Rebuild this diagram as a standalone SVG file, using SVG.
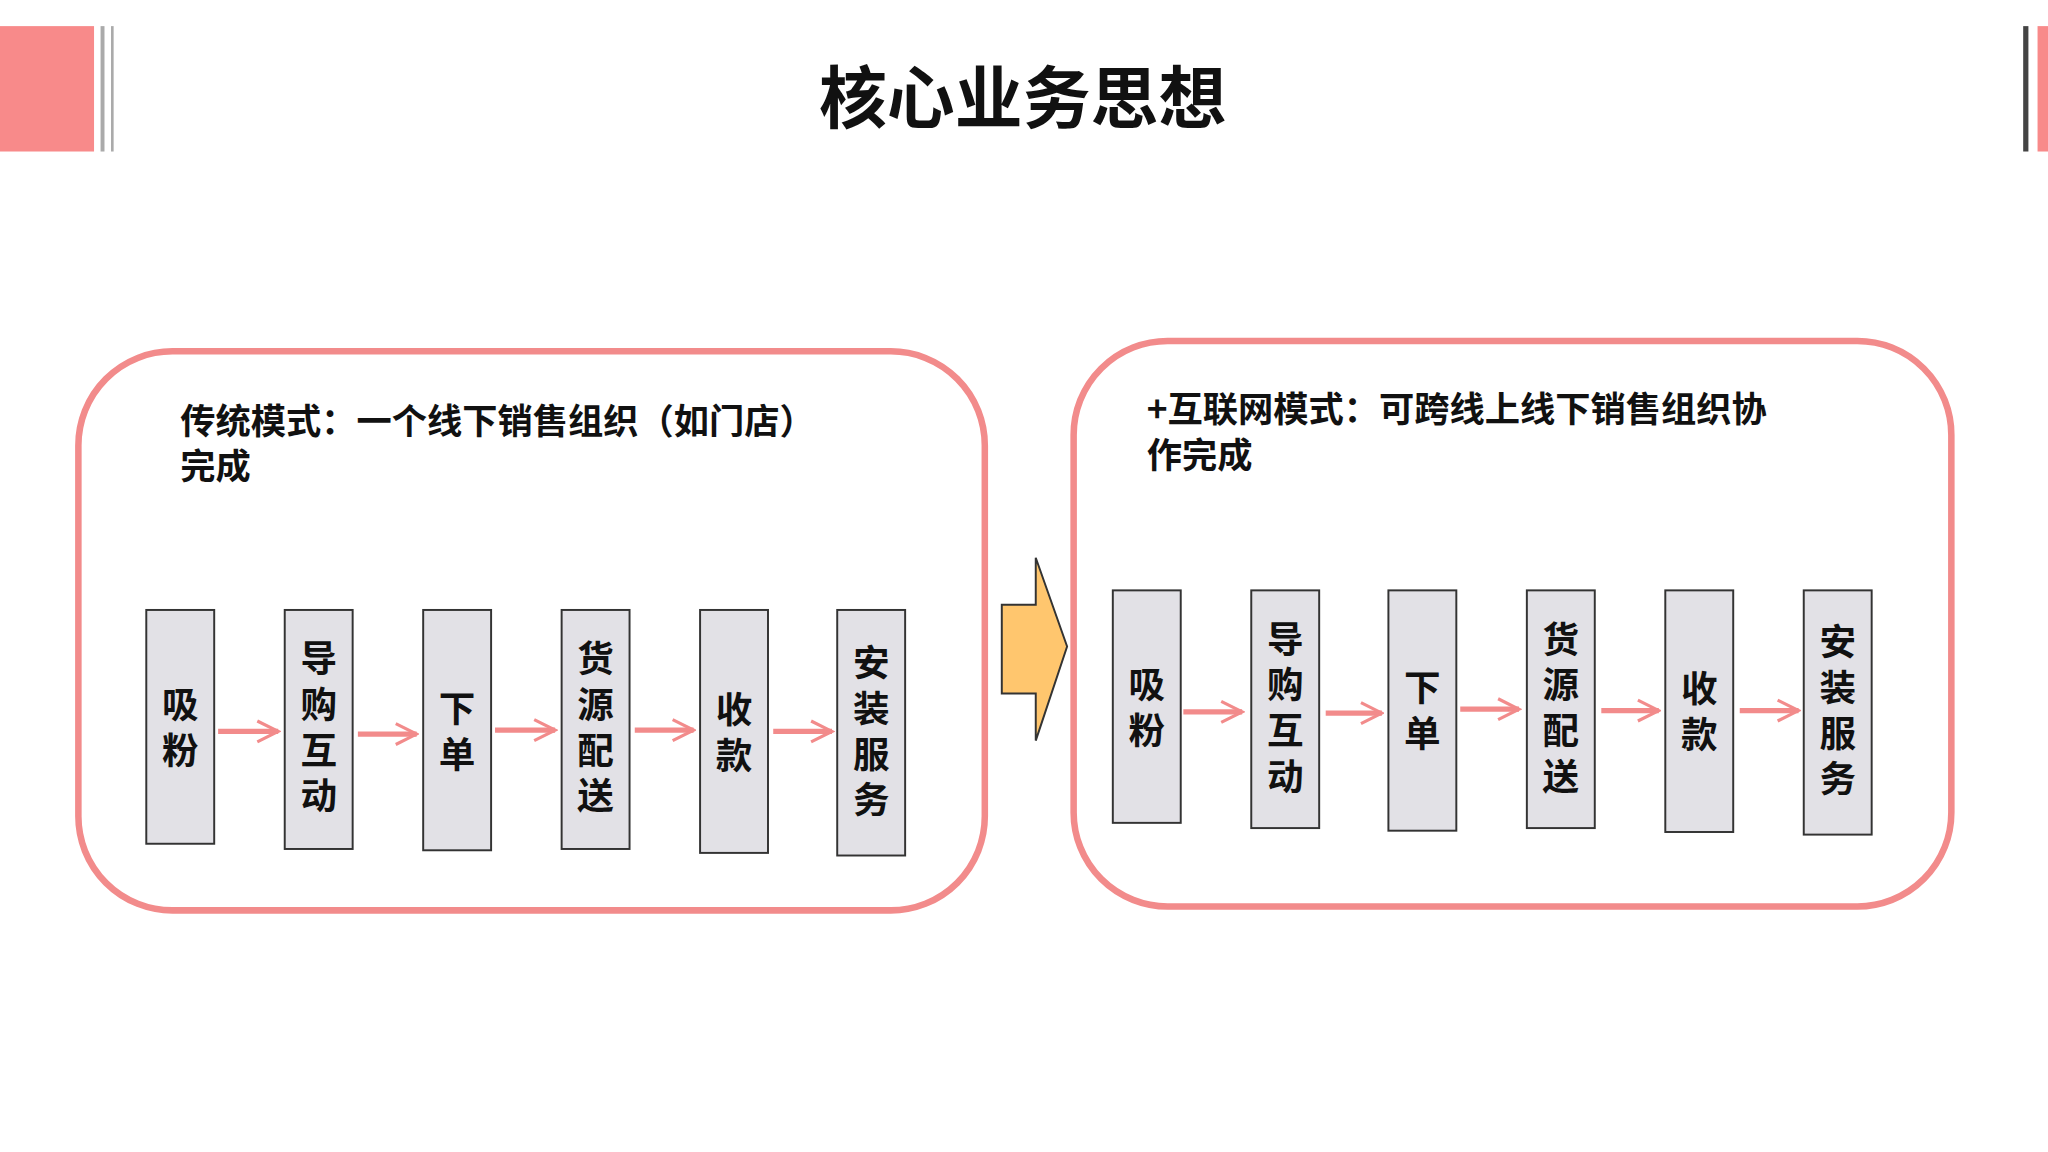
<svg xmlns="http://www.w3.org/2000/svg" width="2048" height="1152" viewBox="0 0 2048 1152">
<defs>
<style>
text{font-family:"Noto Sans CJK SC","Liberation Sans",sans-serif;font-weight:bold;fill:#111}
.panel{fill:#fff;stroke:#F28B8B;stroke-width:5}
.box{fill:#E2E1E6;stroke:#333;stroke-width:1.5}
.bt{font-size:28px;text-anchor:middle;writing-mode:vertical-rl;letter-spacing:7px}
.conn{stroke:#F28B8B;stroke-width:4;fill:none;marker-end:url(#ah)}
</style>
<marker id="ah" viewBox="0 0 10 10" refX="9" refY="5" markerWidth="5" markerHeight="7" orient="auto" markerUnits="strokeWidth">
<path d="M1 1 L9 5 L1 9" fill="none" stroke="#F28B8B" stroke-width="1.2"/>
</marker>
</defs>
<rect width="2048" height="1152" fill="#fff"/>
<g transform="scale(1.30612)">
<g id="header">
<rect x="0" y="20" width="72" height="96" fill="#F88A8A"/>
<rect x="77" y="20" width="3" height="96" fill="#aaa"/>
<rect x="85" y="20" width="2" height="96" fill="#aaa"/>
<rect x="1549" y="20" width="4" height="96" fill="#444"/>
<rect x="1560" y="20" width="8" height="96" fill="#F88A8A"/>
<text x="783" y="94" font-size="52" text-anchor="middle">核心业务思想</text>
</g>
<g id="left-panel">
<rect class="panel" x="60" y="269" width="694" height="428" rx="72"/>
<text x="138" y="332" font-size="27">传统模式：一个线下销售组织（如门店）<tspan x="138" dy="35">完成</tspan></text>
</g>
<g id="right-panel">
<rect class="panel" x="822" y="261" width="672" height="433" rx="72"/>
<text x="878" y="323" font-size="27">+互联网模式：可跨线上线下销售组织协<tspan x="878" dy="35">作完成</tspan></text>
</g>
<g id="big-arrow">
<polygon points="767,463 793,463 793,427 817,495 793,567 793,531 767,531" fill="#FFC66E" stroke="#333" stroke-width="1.5"/>
</g>
<g id="connectors">
<line class="conn" x1="167" y1="560" x2="213" y2="560"/>
<line class="conn" x1="274" y1="562" x2="319" y2="562"/>
<line class="conn" x1="379" y1="559" x2="425" y2="559"/>
<line class="conn" x1="486" y1="559" x2="531" y2="559"/>
<line class="conn" x1="592" y1="560" x2="637" y2="560"/>
<line class="conn" x1="906" y1="545" x2="951" y2="545"/>
<line class="conn" x1="1015" y1="546" x2="1058" y2="546"/>
<line class="conn" x1="1118" y1="543" x2="1163" y2="543"/>
<line class="conn" x1="1226" y1="544" x2="1270" y2="544"/>
<line class="conn" x1="1332" y1="544" x2="1377" y2="544"/>
</g>
<g id="l1"><rect class="box" x="112" y="467" width="52" height="179"/><text class="bt" x="138" y="560">吸粉</text></g>
<g id="l2"><rect class="box" x="218" y="467" width="52" height="183"/><text class="bt" x="244" y="560">导购互动</text></g>
<g id="l3"><rect class="box" x="324" y="467" width="52" height="184"/><text class="bt" x="350" y="563">下单</text></g>
<g id="l4"><rect class="box" x="430" y="467" width="52" height="183"/><text class="bt" x="456" y="560">货源配送</text></g>
<g id="l5"><rect class="box" x="536" y="467" width="52" height="186"/><text class="bt" x="562" y="564">收款</text></g>
<g id="l6"><rect class="box" x="641" y="467" width="52" height="188"/><text class="bt" x="667" y="563">安装服务</text></g>
<g id="r1"><rect class="box" x="852" y="452" width="52" height="178"/><text class="bt" x="878" y="545">吸粉</text></g>
<g id="r2"><rect class="box" x="958" y="452" width="52" height="182"/><text class="bt" x="984" y="545">导购互动</text></g>
<g id="r3"><rect class="box" x="1063" y="452" width="52" height="184"/><text class="bt" x="1089" y="547">下单</text></g>
<g id="r4"><rect class="box" x="1169" y="452" width="52" height="182"/><text class="bt" x="1195" y="545">货源配送</text></g>
<g id="r5"><rect class="box" x="1275" y="452" width="52" height="185"/><text class="bt" x="1301" y="548">收款</text></g>
<g id="r6"><rect class="box" x="1381" y="452" width="52" height="187"/><text class="bt" x="1407" y="547">安装服务</text></g>
</g>
</svg>
